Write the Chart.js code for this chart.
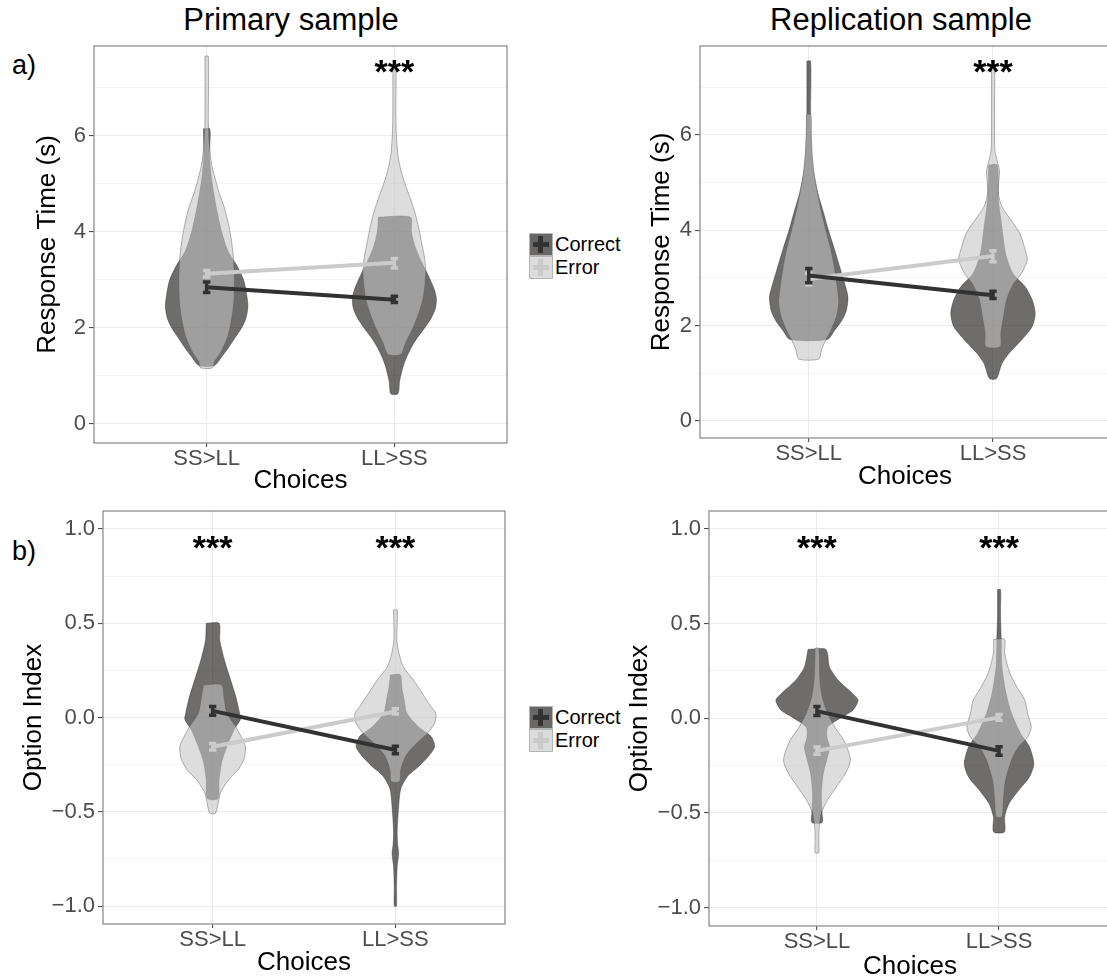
<!DOCTYPE html>
<html>
<head>
<meta charset="utf-8">
<script src="https://cdn.jsdelivr.net/npm/chart.js@4.4.1/dist/chart.umd.min.js"></script>
<style>
html, body { margin: 0; padding: 0; background: #fff; overflow: hidden; width: 1107px; height: 980px; }
body { position: relative; font-family: 'Liberation Sans', Arial, Helvetica, sans-serif; color: #000; }
canvas { position: absolute; }
.txt { position: absolute; white-space: nowrap; line-height: 1; }
.ptitle { font-size: 31px; transform: translateX(-50%); }
.tag { font-size: 27px; }
.legend { position: absolute; left: 529px; }
.key { position: relative; width: 22px; height: 21px; border: 1px solid #b5b5b5; }
.key .h, .key .v { position: absolute; }
.key .h { left: 3px; top: 8px; width: 16px; height: 5px; }
.key .v { left: 8px; top: 2px; width: 5px; height: 17px; }
.row { display: flex; align-items: center; height: 23px; }
.row span { font-size: 20px; margin-left: 2px; line-height: 23px; }
</style>
</head>
<body>

<div class="txt ptitle" style="left:291px; top:4px;">Primary sample</div>
<div class="txt ptitle" style="left:901px; top:4px;">Replication sample</div>
<div class="txt tag" style="left:12px; top:52px;">a)</div>
<div class="txt tag" style="left:12px; top:538px;">b)</div>

<div class="legend" style="top:233px;">
  <div class="row"><div class="key" style="background:#6a6866;"><div class="h" style="background:#333;"></div><div class="v" style="background:#333;"></div></div><span>Correct</span></div>
  <div class="row"><div class="key" style="background:#dcdcdc;"><div class="h" style="background:#cbcbcb;"></div><div class="v" style="background:#cbcbcb;"></div></div><span>Error</span></div>
</div>
<div class="legend" style="top:706px;">
  <div class="row"><div class="key" style="background:#6a6866;"><div class="h" style="background:#333;"></div><div class="v" style="background:#333;"></div></div><span>Correct</span></div>
  <div class="row"><div class="key" style="background:#dcdcdc;"><div class="h" style="background:#cbcbcb;"></div><div class="v" style="background:#cbcbcb;"></div></div><span>Error</span></div>
</div>

<canvas id="rtPrimary" width="520" height="500" style="left:0; top:0;"></canvas>
<canvas id="rtReplication" width="520" height="500" style="left:600px; top:0;"></canvas>
<canvas id="oiPrimary" width="520" height="490" style="left:0; top:490px;"></canvas>
<canvas id="oiReplication" width="520" height="494" style="left:600px; top:490px;"></canvas>

<script>
const FONT = "'Liberation Sans', Arial, Helvetica, sans-serif";

const choices = ['SS>LL', 'LL>SS'];
const rtTicks = [0, 1, 2, 3, 4, 5, 6, 7];
const rtLabels = ['0', '', '2', '', '4', '', '6', ''];
const oiTicks = [-1, -0.75, -0.5, -0.25, 0, 0.25, 0.5, 0.75, 1];
const oiLabels = ['\u22121.0', '', '\u22120.5', '', '0.0', '', '0.5', '', '1.0'];

// violin outlines: [value, half width in category units], top to bottom
const rtPrimCorrectSS = [[6.15,0.017],[5.6,0.015],[5.2,0.023],[4.8,0.038],[4.4,0.057],[4.0,0.080],[3.6,0.114],[3.3,0.161],[3.0,0.197],[2.7,0.213],[2.45,0.220],[2.2,0.209],[2.0,0.186],[1.8,0.152],[1.6,0.118],[1.4,0.080],[1.22,0.042]];
const rtPrimErrorSS = [[7.66,0.009],[6.3,0.009],[5.8,0.015],[5.4,0.027],[5.1,0.046],[4.8,0.068],[4.5,0.095],[4.2,0.114],[3.9,0.129],[3.5,0.142],[3.0,0.148],[2.5,0.144],[2.1,0.129],[1.8,0.110],[1.5,0.076],[1.3,0.042],[1.17,0.032]];
const rtPrimCorrectLL = [[4.31,0.085],[4.0,0.091],[3.7,0.110],[3.4,0.142],[3.1,0.180],[2.8,0.213],[2.6,0.224],[2.4,0.218],[2.2,0.195],[2.0,0.161],[1.8,0.123],[1.6,0.091],[1.4,0.066],[1.2,0.047],[0.9,0.028],[0.63,0.019]];
const rtPrimErrorLL = [[7.55,0.008],[6.5,0.008],[6.0,0.011],[5.6,0.019],[5.3,0.034],[5.0,0.057],[4.7,0.085],[4.4,0.110],[4.1,0.129],[3.8,0.144],[3.5,0.159],[3.2,0.167],[2.9,0.163],[2.6,0.152],[2.3,0.129],[2.0,0.099],[1.7,0.061],[1.45,0.034]];

const rtRepCorrectSS = [[7.55,0.010],[6.5,0.010],[6.0,0.012],[5.6,0.016],[5.2,0.027],[4.8,0.048],[4.4,0.078],[4.0,0.107],[3.6,0.140],[3.2,0.171],[2.9,0.194],[2.6,0.213],[2.3,0.203],[2.1,0.178],[1.9,0.140],[1.71,0.101]];
const rtRepErrorSS = [[6.43,0.012],[6.0,0.014],[5.6,0.019],[5.2,0.029],[4.8,0.047],[4.4,0.068],[4.0,0.093],[3.6,0.120],[3.2,0.140],[2.8,0.155],[2.5,0.163],[2.2,0.151],[1.9,0.120],[1.7,0.093],[1.5,0.070],[1.3,0.054]];
const rtRepCorrectLL = [[5.37,0.023],[4.64,0.029],[4.08,0.048],[3.52,0.068],[3.1,0.107],[2.82,0.174],[2.54,0.213],[2.26,0.229],[1.98,0.213],[1.7,0.155],[1.42,0.087],[1.2,0.048],[0.89,0.019]];
const rtRepErrorLL = [[7.55,0.008],[6.5,0.008],[5.7,0.010],[5.45,0.023],[5.25,0.035],[5.0,0.031],[4.78,0.029],[4.5,0.048],[4.22,0.097],[3.94,0.145],[3.6,0.174],[3.38,0.186],[3.1,0.155],[2.85,0.107],[2.55,0.074],[2.2,0.058],[1.85,0.043],[1.56,0.039]];

const oiPrimCorrectSS = [[0.50,0.035],[0.41,0.039],[0.31,0.063],[0.20,0.098],[0.11,0.127],[0.02,0.148],[-0.01,0.152],[-0.065,0.117],[-0.154,0.078],[-0.24,0.049],[-0.33,0.035],[-0.43,0.029]];
const oiPrimErrorSS = [[0.173,0.049],[0.10,0.063],[0.023,0.078],[-0.05,0.127],[-0.12,0.166],[-0.154,0.180],[-0.22,0.172],[-0.28,0.137],[-0.33,0.088],[-0.40,0.043],[-0.507,0.016]];
const oiPrimCorrectLL = [[0.226,0.027],[0.16,0.035],[0.09,0.049],[0.023,0.063],[-0.05,0.127],[-0.10,0.195],[-0.154,0.215],[-0.20,0.186],[-0.26,0.127],[-0.31,0.068],[-0.38,0.029],[-0.50,0.016],[-0.60,0.010],[-0.67,0.012],[-0.72,0.018],[-0.79,0.010],[-0.90,0.006],[-1.0,0.006]];
const oiPrimErrorLL = [[0.57,0.010],[0.41,0.008],[0.34,0.020],[0.27,0.043],[0.20,0.098],[0.13,0.146],[0.058,0.195],[0.023,0.221],[-0.03,0.215],[-0.083,0.176],[-0.136,0.117],[-0.20,0.059],[-0.28,0.029],[-0.34,0.023]];

const oiRepCorrectSS = [[0.364,0.049],[0.27,0.069],[0.20,0.118],[0.13,0.197],[0.095,0.226],[0.042,0.197],[0.007,0.138],[-0.046,0.059],[-0.10,0.055],[-0.152,0.069],[-0.20,0.059],[-0.29,0.035],[-0.40,0.024],[-0.50,0.028],[-0.55,0.028]];
const oiRepErrorSS = [[0.37,0.010],[0.20,0.016],[0.11,0.030],[0.025,0.059],[-0.046,0.098],[-0.117,0.148],[-0.187,0.177],[-0.23,0.183],[-0.29,0.157],[-0.36,0.108],[-0.43,0.059],[-0.50,0.024],[-0.58,0.012],[-0.65,0.010],[-0.71,0.010]];
const oiRepCorrectLL = [[0.68,0.008],[0.555,0.008],[0.417,0.012],[0.27,0.016],[0.13,0.039],[0.025,0.069],[-0.08,0.118],[-0.15,0.167],[-0.24,0.191],[-0.31,0.167],[-0.38,0.108],[-0.45,0.055],[-0.52,0.031],[-0.60,0.030]];
const oiRepErrorLL = [[0.417,0.030],[0.343,0.031],[0.24,0.059],[0.166,0.098],[0.095,0.142],[0.025,0.157],[-0.046,0.177],[-0.10,0.157],[-0.15,0.108],[-0.22,0.069],[-0.33,0.035],[-0.43,0.024],[-0.52,0.016]];

// group means with error bar ends, one value per choice
const rtPrimCorrectMean = [2.85, 2.59];
const rtPrimCorrectLo = [2.74, 2.53];
const rtPrimCorrectHi = [2.96, 2.66];
const rtPrimErrorMean = [3.13, 3.36];
const rtPrimErrorLo = [3.06, 3.25];
const rtPrimErrorHi = [3.20, 3.45];

const rtRepCorrectMean = [3.05, 2.64];
const rtRepCorrectLo = [2.90, 2.57];
const rtRepCorrectHi = [3.20, 2.72];
const rtRepErrorMean = [2.98, 3.46];
const rtRepErrorLo = [2.86, 3.34];
const rtRepErrorHi = [3.10, 3.57];

const oiPrimCorrectMean = [0.035, -0.172];
const oiPrimCorrectLo = [0.012, -0.192];
const oiPrimCorrectHi = [0.058, -0.152];
const oiPrimErrorMean = [-0.155, 0.032];
const oiPrimErrorLo = [-0.172, 0.018];
const oiPrimErrorHi = [-0.138, 0.046];

const oiRepCorrectMean = [0.038, -0.172];
const oiRepCorrectLo = [0.015, -0.195];
const oiRepCorrectHi = [0.062, -0.150];
const oiRepErrorMean = [-0.172, 0.005];
const oiRepErrorLo = [-0.190, -0.010];
const oiRepErrorHi = [-0.152, 0.020];

const CORRECT_FILL = 'rgba(6, 3, 0, 0.58)';
const ERROR_FILL = 'rgba(196, 196, 196, 0.58)';
const CORRECT_LINE = '#323232';
const ERROR_LINE = '#cbcbcb';

function violin(profile, cat) {
    const left = profile.map(p => ({ x: cat - p[1], y: p[0] }));
    const right = profile.slice().reverse().map(p => ({ x: cat + p[1], y: p[0] }));
    const pts = left.concat(right);
    pts.push(pts[0]);
    return pts;
}

function errorBars(lo, hi, cap) {
    const pts = [];
    [1, 2].forEach((c, i) => {
        pts.push({ x: c - cap, y: hi[i] }, { x: c + cap, y: hi[i] }, { x: c, y: null });
        pts.push({ x: c, y: hi[i] }, { x: c, y: lo[i] }, { x: c, y: null });
        pts.push({ x: c - cap, y: lo[i] }, { x: c + cap, y: lo[i] }, { x: c, y: null });
    });
    return pts;
}

function violinSet(data, fill, border, order) {
    return { data: data, fill: 'shape', backgroundColor: fill, borderColor: border, borderWidth: 0.7, pointRadius: 0, tension: 0.25, order: order };
}

function lineSet(data, color, width, order) {
    return { data: data, fill: false, borderColor: color, borderWidth: width, pointRadius: 0, tension: 0, order: order, borderCapStyle: 'butt' };
}

const framePlugin = {
    id: 'frame',
    afterDraw(chart, args, opts) {
        const { ctx, chartArea: a, scales } = chart;
        const size = 34;
        ctx.save();
        ctx.font = 'bold ' + size + 'px ' + FONT;
        ctx.fillStyle = '#000';
        ctx.textAlign = 'center';
        ctx.textBaseline = 'alphabetic';
        (opts.stars || []).forEach(s => {
            ctx.fillText('***', scales.x.getPixelForValue(s[0]), scales.y.getPixelForValue(s[1]) + 0.56 * size);
        });
        ctx.strokeStyle = '#8e8e8e';
        ctx.lineWidth = 1.3;
        ctx.strokeRect(a.left, a.top, a.right - a.left, a.bottom - a.top);
        ctx.restore();
    }
};

function makePanel(p) {
    const ctx = document.getElementById(p.id);
    const datasets = [
        violinSet(violin(p.correct[0], 1), CORRECT_FILL, 'rgba(40,40,40,0.6)', 6),
        violinSet(violin(p.correct[1], 2), CORRECT_FILL, 'rgba(40,40,40,0.6)', 6),
        violinSet(violin(p.error[0], 1), ERROR_FILL, 'rgba(90,90,90,0.65)', 5),
        violinSet(violin(p.error[1], 2), ERROR_FILL, 'rgba(90,90,90,0.65)', 5),
        lineSet([{ x: 1, y: p.errorMean[0] }, { x: 2, y: p.errorMean[1] }], ERROR_LINE, 4, 3),
        lineSet(errorBars(p.errorLo, p.errorHi, 0.02), ERROR_LINE, 3.5, 3),
        lineSet([{ x: 1, y: p.correctMean[0] }, { x: 2, y: p.correctMean[1] }], CORRECT_LINE, 4, 1),
        lineSet(errorBars(p.correctLo, p.correctHi, 0.02), CORRECT_LINE, 3.5, 1)
    ];

    return new Chart(ctx, {
        type: 'line',
        data: { datasets: datasets },
        options: {
            responsive: false,
            animation: false,
            events: [],
            layout: { padding: { left: 0, top: p.top, right: p.right, bottom: 0 } },
            plugins: {
                legend: { display: false },
                tooltip: { enabled: false },
                frame: { stars: p.stars }
            },
            scales: {
                x: {
                    type: 'linear',
                    min: p.xMin,
                    max: p.xMax,
                    afterBuildTicks: s => { s.ticks = [{ value: 1 }, { value: 2 }]; },
                    afterFit: s => { s.height = p.xHeight; },
                    ticks: {
                        autoSkip: false,
                        maxRotation: 0,
                        padding: -1,
                        color: '#4d4d4d',
                        font: { family: FONT, size: 22 },
                        callback: v => choices[Math.round(v) - 1]
                    },
                    grid: { color: '#ebebeb', lineWidth: 1.1, tickLength: 4, tickColor: '#4d4d4d' },
                    border: { display: false },
                    title: { display: true, text: 'Choices', color: '#000', font: { family: FONT, size: 26 }, padding: { top: 0, bottom: p.xTitlePad } }
                },
                y: {
                    type: 'linear',
                    min: p.yMin,
                    max: p.yMax,
                    afterBuildTicks: s => { s.ticks = p.yTicks.map(v => ({ value: v })); },
                    afterFit: s => { s.width = p.yWidth; },
                    ticks: {
                        autoSkip: false,
                        padding: 3,
                        color: '#4d4d4d',
                        font: { family: FONT, size: 22 },
                        callback: (v, i) => p.yLabels[i]
                    },
                    grid: {
                        color: c => (c.tick && p.yLabels[c.index] !== '') ? '#ebebeb' : '#f3f3f3',
                        lineWidth: c => (c.tick && p.yLabels[c.index] !== '') ? 1.1 : 0.8,
                        tickLength: 5,
                        tickColor: c => (c.tick && p.yLabels[c.index] !== '') ? '#4d4d4d' : 'rgba(0,0,0,0)'
                    },
                    border: { display: false },
                    title: { display: true, text: p.yTitle, color: '#000', font: { family: FONT, size: 26 }, padding: { top: p.yTitlePad, bottom: 0 } }
                }
            }
        },
        plugins: [framePlugin]
    });
}

makePanel({
    id: 'rtPrimary', top: 46, right: 13, yWidth: 94, xHeight: 57, xTitlePad: 3.4, yTitlePad: 32.4,
    xMin: 0.4, xMax: 2.6, yMin: -0.396, yMax: 7.875, yTicks: rtTicks, yLabels: rtLabels, yTitle: 'Response Time (s)',
    correct: [rtPrimCorrectSS, rtPrimCorrectLL], error: [rtPrimErrorSS, rtPrimErrorLL],
    correctMean: rtPrimCorrectMean, correctLo: rtPrimCorrectLo, correctHi: rtPrimCorrectHi,
    errorMean: rtPrimErrorMean, errorLo: rtPrimErrorLo, errorHi: rtPrimErrorHi,
    stars: [[2, 7.5]]
});

makePanel({
    id: 'rtReplication', top: 46, right: 10, yWidth: 100, xHeight: 62, xTitlePad: 7.4, yTitlePad: 46.4,
    xMin: 0.41, xMax: 2.635, yMin: -0.357, yMax: 7.867, yTicks: rtTicks, yLabels: rtLabels, yTitle: 'Response Time (s)',
    correct: [rtRepCorrectSS, rtRepCorrectLL], error: [rtRepErrorSS, rtRepErrorLL],
    correctMean: rtRepCorrectMean, correctLo: rtRepCorrectLo, correctHi: rtRepCorrectHi,
    errorMean: rtRepErrorMean, errorLo: rtRepErrorLo, errorHi: rtRepErrorHi,
    stars: [[2, 7.5]]
});

makePanel({
    id: 'oiPrimary', top: 21, right: 15, yWidth: 103, xHeight: 56, xTitlePad: 1.4, yTitlePad: 18.4,
    xMin: 0.4, xMax: 2.6, yMin: -1.095, yMax: 1.095, yTicks: oiTicks, yLabels: oiLabels, yTitle: 'Option Index',
    correct: [oiPrimCorrectSS, oiPrimCorrectLL], error: [oiPrimErrorSS, oiPrimErrorLL],
    correctMean: oiPrimCorrectMean, correctLo: oiPrimCorrectLo, correctHi: oiPrimCorrectHi,
    errorMean: oiPrimErrorMean, errorLo: oiPrimErrorLo, errorHi: oiPrimErrorHi,
    stars: [[1, 0.94], [2, 0.94]]
});

makePanel({
    id: 'oiReplication', top: 21, right: 9, yWidth: 109, xHeight: 58, xTitlePad: 1.4, yTitlePad: 24.4,
    xMin: 0.407, xMax: 2.615, yMin: -1.097, yMax: 1.095, yTicks: oiTicks, yLabels: oiLabels, yTitle: 'Option Index',
    correct: [oiRepCorrectSS, oiRepCorrectLL], error: [oiRepErrorSS, oiRepErrorLL],
    correctMean: oiRepCorrectMean, correctLo: oiRepCorrectLo, correctHi: oiRepCorrectHi,
    errorMean: oiRepErrorMean, errorLo: oiRepErrorLo, errorHi: oiRepErrorHi,
    stars: [[1, 0.94], [2, 0.94]]
});
</script>
</body>
</html>
